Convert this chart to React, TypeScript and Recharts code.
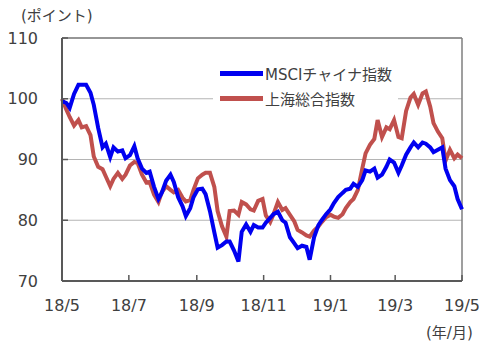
import {
  LineChart,
  Line,
  XAxis,
  YAxis,
  CartesianGrid,
  ReferenceLine,
} from "recharts";

// days since 2018/5/1
const days = [
  0, 4, 7, 11, 15, 18, 22, 26, 29, 33, 37, 40, 44, 47, 51, 55, 58, 62, 66, 69,
  73, 77, 80, 84, 88, 91, 95, 99, 102, 106, 110, 113, 117, 120, 124, 128, 131,
  135, 139, 142, 146, 150, 153, 157, 161, 164, 168, 172, 175, 179, 183, 186,
  190, 193, 197, 201, 204, 208, 212, 215, 219, 223, 226, 230, 234, 237, 241,
  245, 248, 252, 256, 259, 263, 266, 270, 274, 277, 281, 285, 288, 292, 296,
  299, 303, 307, 310, 314, 318, 321, 325, 329, 332, 336, 339, 343, 347, 350,
  354, 358, 361, 365,
];

const msci = [
  99.6, 99.3, 98.5, 100.8, 102.3, 102.3, 102.3, 101, 99, 95.2,
  92, 92.6, 90.4, 92, 91.3, 91.5, 90.2, 90.7, 92.2, 90.2,
  88.5, 87.8, 88, 85.5, 83.5, 84.5, 86.5, 87.5, 86.3, 83.8,
  82.3, 80.7, 82, 83.8, 85.1, 85.2, 84.3, 81.5, 78, 75.5,
  75.9, 76.5, 76.5, 75, 73.2, 78.1, 79.3, 78.1, 79.2, 78.8,
  78.8, 79.6, 80.4, 81, 81.4, 80, 79.6, 77.2, 76.2, 75.4,
  75.8, 75.6, 73.5, 77.2, 79.2, 80, 81, 81.8, 82.8, 83.8,
  84.5, 85, 85.2, 86, 85.5, 86.6, 88.2, 88, 88.5, 87,
  87.5, 88.8, 90, 89.5, 87.8, 89, 90.8, 92, 92.8, 92,
  92.8, 92.6, 92, 91.2, 91.6, 92, 88.5, 86.6, 85.6, 83.5,
  81.8,
];

const shanghai = [
  100, 98.2, 97, 95.6, 96.5, 95.3, 95.5, 94, 90.5, 88.8,
  88.4, 87.2, 85.6, 86.8, 87.8, 86.8, 87.5, 89, 89.6, 89.4,
  87.5, 86.2, 86.3, 84.2, 83, 84.6, 85.6, 85, 84.6, 85,
  83.7, 83.1, 83.3, 85, 86.9, 87.5, 87.8, 87.8, 85.5, 81.5,
  79, 77.3, 81.5, 81.6, 80.9, 83, 82.6, 81.8, 81.6, 83.2,
  83.5, 80.8, 79.7, 81, 83, 81.7, 82, 80.9, 79.8, 78.4,
  78, 77.5, 77.3, 78.3, 79, 79.7, 80.5, 80.9, 80.6, 80.4,
  81, 82, 83, 83.5, 85, 88.5, 91, 92.4, 93.4, 96.5,
  93.7, 95.3, 95, 96.5, 93.7, 93.5, 98, 100.2, 100.8, 99,
  100.9, 101.2, 98.7, 96, 94.6, 93.5, 89.8, 91.6, 90.2, 90.8,
  90.2,
];

const xTicks = [0, 61, 123, 184, 245, 304, 365];
const xLabels = ["18/5", "18/7", "18/9", "18/11", "19/1", "19/3", "19/5"];
const yTicks = [70, 80, 90, 100, 110];

const seriesNames = ["MSCIチャイナ指数", "上海総合指数"];
const seriesColors = ["#0000f0", "#c0504d"];

const chartData = days.map((d, i) => ({
  day: d,
  msci: msci[i],
  shanghai: shanghai[i],
}));

const FONT = "'DejaVu Sans', 'Noto Sans CJK JP', sans-serif";
const TEXT = "#404040";

export default function App() {
  return (
    <div
      style={{
        position: "relative",
        width: 500,
        height: 353,
        fontFamily: FONT,
        background: "#fff",
      }}
    >
      <style>{"body{margin:0}"}</style>
      <div
        style={{
          position: "absolute",
          left: 21,
          top: 4,
          fontSize: 15,
          color: TEXT,
        }}
      >
        (ポイント)
      </div>
      <div
        style={{
          position: "absolute",
          left: 426,
          top: 321,
          fontSize: 15,
          color: TEXT,
        }}
      >
        (年/月)
      </div>
      <LineChart
        width={500}
        height={353}
        data={chartData}
        margin={{ top: 38, right: 38, left: 0, bottom: 42 }}
      >
        <CartesianGrid
          vertical={false}
          horizontal
          stroke="#b4b4b4"
          strokeWidth={1.2}
        />
        <XAxis
          dataKey="day"
          type="number"
          domain={[0, 365]}
          ticks={xTicks}
          tickFormatter={(v: number) => xLabels[xTicks.indexOf(v)]}
          height={30}
          tickSize={-6}
          tickMargin={25}
          interval={0}
          axisLine={{ stroke: "#595959", strokeWidth: 2 }}
          tickLine={{ stroke: "#595959", strokeWidth: 1.5 }}
          tick={{ fill: TEXT, fontSize: 16, fontFamily: FONT }}
        />
        <YAxis
          domain={[70, 110]}
          ticks={yTicks}
          width={62}
          tickSize={-6}
          tickMargin={30}
          interval={0}
          axisLine={{ stroke: "#595959", strokeWidth: 2 }}
          tickLine={{ stroke: "#595959", strokeWidth: 1.5 }}
          tick={{ fill: TEXT, fontSize: 16, fontFamily: FONT }}
        />
        <ReferenceLine y={110} stroke="#7f7f7f" strokeWidth={1.5} />
        <ReferenceLine x={365} stroke="#7f7f7f" strokeWidth={1.5} />
        <Line
          type="linear"
          dataKey="shanghai"
          name={seriesNames[1]}
          stroke={seriesColors[1]}
          strokeWidth={4}
          dot={false}
          isAnimationActive={false}
        />
        <Line
          type="linear"
          dataKey="msci"
          name={seriesNames[0]}
          stroke={seriesColors[0]}
          strokeWidth={4}
          dot={false}
          isAnimationActive={false}
        />
      </LineChart>
      <div
        style={{
          position: "absolute",
          left: 213,
          top: 61,
          width: 185,
          boxSizing: "border-box",
          background: "#fff",
          padding: "0 4px 0 7px",
        }}
      >
        {seriesNames.map((name, i) => (
          <div
            key={name}
            style={{ display: "flex", alignItems: "center", height: 25 }}
          >
            <div
              style={{
                width: 43,
                height: 5,
                background: seriesColors[i],
                marginRight: 2,
                flexShrink: 0,
              }}
            />
            <span style={{ fontSize: 15, color: TEXT, whiteSpace: "nowrap" }}>
              {name}
            </span>
          </div>
        ))}
      </div>
    </div>
  );
}
